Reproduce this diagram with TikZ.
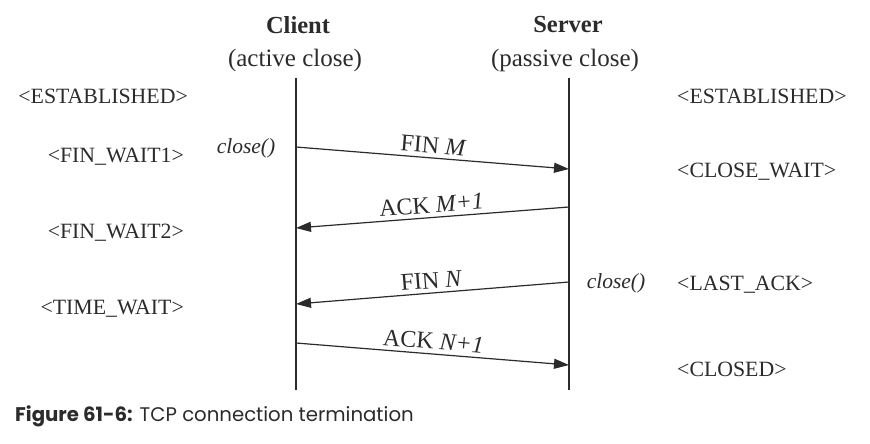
\documentclass[tikz,border=0pt]{standalone}
\usepackage{fontspec}
\setmainfont{Liberation Serif}
\newfontfamily\capfont{Poppins}
\usetikzlibrary{arrows.meta}
\definecolor{ink}{HTML}{2B2B2B}
\tikzset{
  lifeline/.style={draw=ink, line width=2.6pt},
  msg/.style={draw=ink, line width=1.2pt, -{Triangle[length=15pt,width=10pt]}},
  msglabel/.style={midway, above, sloped, inner sep=4pt, text=ink, font=\fontsize{24}{26}\selectfont},
  title/.style={text=ink, font=\fontsize{24.5}{26}\selectfont\bfseries, inner sep=0pt},
  subtitle/.style={text=ink, font=\fontsize{25}{27}\selectfont, inner sep=0pt},
  state/.style={text=ink, font=\fontsize{21.8}{23}\selectfont, inner sep=0pt},
  call/.style={text=ink, font=\fontsize{21.5}{23}\selectfont\itshape, inner sep=0pt},
}
\begin{document}
\begin{tikzpicture}[x=1pt, y=-1pt]
\useasboundingbox (0,0) rectangle (870,444);
% headers
\node[title] (client) at (298,25) {Client};
\node[subtitle] (clientsub) at (295,60) {(active close)};
\node[title] (server) at (568,25) {Server};
\node[subtitle] (serversub) at (565,60) {(passive close)};
% lifelines
\coordinate (cT) at (296,78);
\coordinate (cB) at (296,390);
\coordinate (sT) at (569,78);
\coordinate (sB) at (569,390);
\draw[lifeline] (cT) -- (cB);
\draw[lifeline] (sT) -- (sB);
% message endpoints
\coordinate (c1) at (296,147);
\coordinate (s1) at (569,169);
\coordinate (s2) at (569,207);
\coordinate (c2) at (296,228);
\coordinate (s3) at (569,282);
\coordinate (c3) at (296,304);
\coordinate (c4) at (296,343);
\coordinate (s4) at (569,365);
\draw[msg] (c1) -- node[msglabel] (m1) {FIN \textit{M}} (s1);
\draw[msg] (s2) -- node[msglabel] (m2) {ACK \textit{M+1}} (c2);
\draw[msg] (s3) -- node[msglabel] (m3) {FIN \textit{N}} (c3);
\draw[msg] (c4) -- node[msglabel] (m4) {ACK \textit{N+1}} (s4);
% calls
\node[call] (cclose) at (246,148) {close()};
\node[call] (sclose) at (616,283) {close()};
% client states
\node[state, anchor=east] (cs1) at (188,96) {<ESTABLISHED>};
\node[state, anchor=east] (cs2) at (184,157) {<FIN\_WAIT1>};
\node[state, anchor=east] (cs3) at (184,233) {<FIN\_WAIT2>};
\node[state, anchor=east] (cs4) at (184,309) {<TIME\_WAIT>};
% server states
\node[state, anchor=west] (ss1) at (677,96) {<ESTABLISHED>};
\node[state, anchor=west] (ss2) at (677,172) {<CLOSE\_WAIT>};
\node[state, anchor=west] (ss3) at (677,285) {<LAST\_ACK>};
\node[state, anchor=west] (ss4) at (677,369) {<CLOSED>};
% caption
\node[anchor=west, inner sep=0pt, text=ink, font=\capfont\fontsize{19.7}{22}\selectfont] (cap) at (15,416) {\textbf{Figure 61-6:} TCP connection termination};
\end{tikzpicture}
\end{document}
